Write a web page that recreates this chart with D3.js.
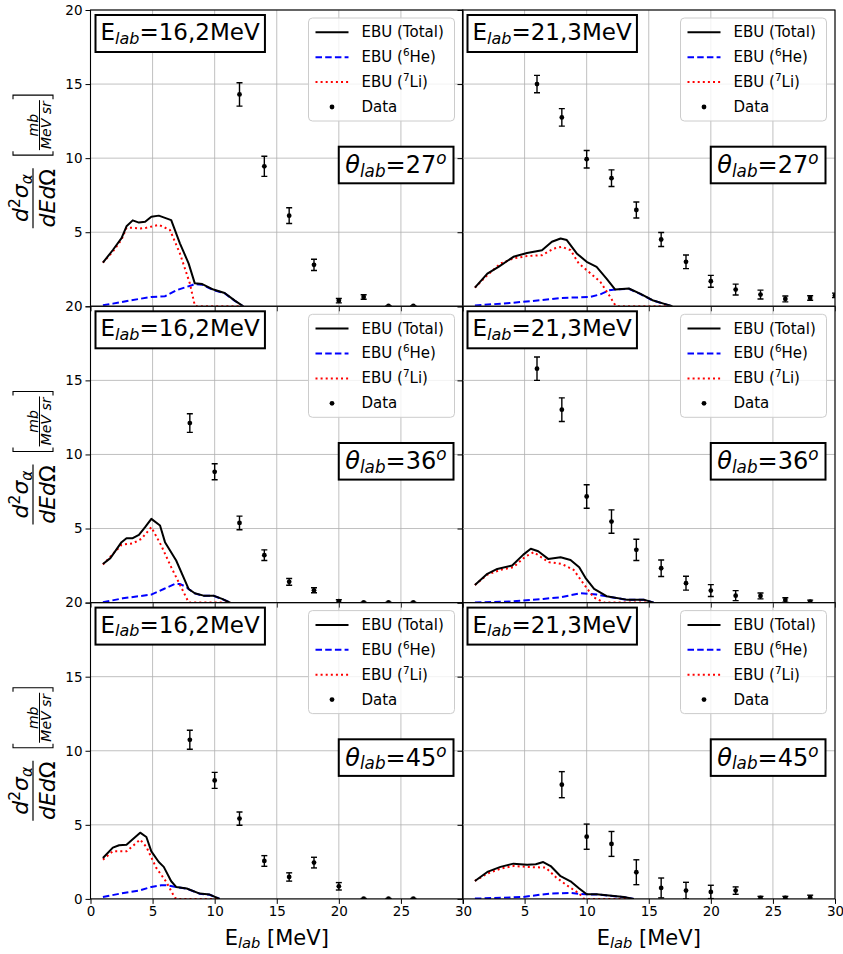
<!DOCTYPE html>
<html><head><meta charset="utf-8">
<script src="https://cdn.jsdelivr.net/npm/d3@7/dist/d3.min.js"></script>
<style>
body{margin:0;background:#fff}
text{font-family:"DejaVu Sans",sans-serif}
</style>
</head><body>
<svg id="c" width="843" height="954"></svg>
<script>
// ---------- data ----------
const energies = ["16,2", "21,3"];
const angles = ["27", "36", "45"];
const xTicks = [0, 5, 10, 15, 20, 25, 30];
const yTicks = [0, 5, 10, 15, 20];

// Panel A: 16.2 MeV, 27 deg
const totA = [[1,2.95],[1.8,3.8],[2.5,4.6],[2.9,5.4],[3.4,5.8],[3.9,5.65],[4.4,5.7],[4.9,6.05],[5.5,6.12],[6.5,5.82],[7.2,4.25],[7.9,2.9],[8.4,1.55],[9.0,1.5],[9.9,1.13],[10.8,0.9],[11.6,0.4],[12.3,0]];
const liA  = [[1,2.95],[1.8,3.7],[2.5,4.5],[2.9,5.3],[3.4,5.3],[4.0,5.25],[4.5,5.3],[5.5,5.5],[6.4,5.15],[7.2,3.57],[8.0,1.55],[8.4,0.05],[8.6,0],[12.3,0]];
const heA  = [[1,0.07],[1.8,0.18],[3.2,0.4],[4.9,0.63],[6.0,0.68],[6.9,1.08],[8.15,1.42],[8.4,1.5],[9.0,1.45],[9.9,1.1],[10.8,0.88],[11.6,0.38],[12.3,0]];
const dxA = [12,14,16,18,20,22,24,26];
const dyA = [14.3,9.45,6.12,2.8,0.38,0.63,0.02,0.02];
const deA = [0.79,0.68,0.53,0.38,0.15,0.15,0.02,0.02];

// Panel B: 21.3 MeV, 27 deg
const totB = [[1,1.26],[2,2.2],[2.9,2.66],[4.1,3.34],[5.2,3.6],[6.4,3.79],[7.2,4.36],[7.9,4.58],[8.4,4.47],[9.2,3.57],[10,3.0],[10.8,2.66],[11.6,1.87],[12.3,1.13],[13.4,1.2],[14.3,0.86],[15.3,0.41],[16.2,0.18],[16.9,0]];
const liB  = [[1,1.26],[2,2.1],[3.06,2.89],[4.1,3.23],[5.2,3.39],[6.4,3.45],[7.35,3.9],[8.0,4.02],[8.7,3.79],[9.36,2.89],[10.16,2.33],[11.1,1.65],[11.9,0.63],[12.3,0.07],[12.5,0],[16.9,0]];
const heB  = [[1,0.05],[3.9,0.23],[6.3,0.41],[7.9,0.56],[10.3,0.63],[11.1,0.81],[11.8,1.08],[12.3,1.13],[13.4,1.18],[14.3,0.84],[15.3,0.4],[16.2,0.17],[16.9,0]];
const dxB = [6,8,10,12,14,16,18,20,22,24,26,28,30];
const dyB = [15.0,12.75,9.93,8.65,6.5,4.51,3.0,1.69,1.13,0.79,0.5,0.56,0.74];
const deB = [0.59,0.59,0.59,0.56,0.54,0.47,0.46,0.4,0.37,0.3,0.2,0.15,0.15];

// Panel C: 16.2 MeV, 36 deg
const totC = [[1,2.61],[1.6,3.0],[2.5,4.08],[2.9,4.35],[3.4,4.35],[3.9,4.57],[4.4,5.09],[4.9,5.65],[5.6,5.2],[6.0,4.08],[6.9,2.84],[7.9,0.92],[8.4,0.63],[9.1,0.47],[9.9,0.47],[10.6,0.25],[11.25,0]];
const liC  = [[1,2.57],[2.5,3.9],[3.4,4.0],[4.1,4.3],[4.9,5.09],[5.7,3.85],[6.5,2.39],[7.3,1.04],[7.9,0.02],[8.0,0],[11.25,0]];
const heC  = [[1,0.02],[2.6,0.29],[4.9,0.54],[5.9,0.92],[6.8,1.26],[7.2,1.26],[7.75,1.04],[7.9,0.92],[8.4,0.62],[9.1,0.46],[9.9,0.46],[10.6,0.24],[11.25,0]];
const dxC = [8,10,12,14,16,18,20,22,24,26];
const dyC = [12.12,8.83,5.38,3.2,1.4,0.83,0.09,0.01,0.01,0.01];
const deC = [0.63,0.54,0.46,0.36,0.23,0.17,0.1,0.02,0.02,0.02];

// Panel D: 21.3 MeV, 36 deg
const totD = [[1,1.19],[2,1.94],[2.8,2.27],[4.0,2.5],[4.9,3.24],[5.5,3.63],[6.1,3.47],[6.9,2.95],[7.9,3.06],[8.7,2.88],[9.4,2.39],[9.9,1.67],[10.6,0.92],[11.6,0.43],[13.2,0.2],[14.6,0.2],[15.4,0]];
const liD  = [[1,1.19],[2,1.89],[3.06,2.21],[4.1,2.39],[5.07,3.11],[5.74,3.4],[6.94,2.73],[8.0,2.61],[8.95,2.21],[9.76,1.26],[10.56,0.36],[11.4,0],[15.4,0]];
const heD  = [[1,0.01],[3.9,0.07],[6.5,0.25],[7.9,0.36],[9.5,0.63],[10.2,0.59],[10.8,0.54],[11.6,0.42],[13.2,0.19],[14.6,0.19],[15.4,0]];
const dxD = [6,8,10,12,14,16,18,20,22,24,26,28];
const dyD = [15.79,13.02,7.16,5.47,3.56,2.32,1.31,0.81,0.47,0.45,0.18,0.07];
const deD = [0.79,0.8,0.79,0.79,0.72,0.56,0.47,0.4,0.34,0.2,0.15,0.1];

// Panel E: 16.2 MeV, 45 deg
const totE = [[1,2.76],[1.8,3.46],[2.3,3.62],[2.9,3.66],[3.4,4.02],[4.0,4.47],[4.5,4.18],[4.9,3.21],[5.5,2.49],[5.9,2.16],[6.5,1.19],[6.9,0.81],[7.75,0.7],[8.8,0.36],[9.6,0.29],[10.4,0]];
const liE  = [[1,2.65],[1.8,3.21],[2.9,3.21],[4.0,4.0],[4.5,3.51],[5.3,2.09],[6.1,1.15],[6.8,0.07],[7.0,0],[10.4,0]];
const heE  = [[1,0.13],[2.4,0.36],[4.0,0.58],[4.9,0.81],[5.7,0.92],[6.1,0.92],[6.9,0.8],[7.75,0.69],[8.8,0.35],[9.6,0.28],[10.4,0]];
const dxE = [8,10,12,14,16,18,20,22,24,26];
const dyE = [10.74,8.0,5.42,2.56,1.48,2.45,0.85,0.01,0.01,0.01];
const deE = [0.64,0.54,0.45,0.36,0.28,0.36,0.25,0.02,0.02,0.02];

// Panel F: 21.3 MeV, 45 deg
const totF = [[1,1.21],[2,1.82],[3.06,2.16],[4.1,2.38],[5.2,2.31],[5.9,2.34],[6.5,2.49],[7.1,2.22],[7.9,1.53],[8.7,1.19],[9.4,0.7],[10,0.31],[10.8,0.31],[13,0.13],[13.8,0]];
const liF  = [[1,1.21],[2,1.71],[3.06,2.04],[4.1,2.22],[5.2,2.16],[6.7,2.11],[7.5,1.48],[8.4,0.92],[9.4,0.36],[9.76,0.02],[10,0],[13.8,0]];
const heF  = [[1,0.02],[4.9,0.13],[6.3,0.29],[7.1,0.36],[8.7,0.4],[9.9,0.31],[10.8,0.3],[13,0.12],[13.8,0]];
const dxF = [8,10,12,14,16,18,20,22,24,26,28];
const dyF = [7.71,4.2,3.71,1.8,0.74,0.56,0.47,0.56,0.07,0.07,0.1];
const deF = [0.88,0.85,0.84,0.84,0.67,0.56,0.45,0.25,0.1,0.1,0.15];

const panels = [
  {row:0,col:0,tot:totA,li:liA,he:heA,dx:dxA,dy:dyA,de:deA},
  {row:0,col:1,tot:totB,li:liB,he:heB,dx:dxB,dy:dyB,de:deB},
  {row:1,col:0,tot:totC,li:liC,he:heC,dx:dxC,dy:dyC,de:deC},
  {row:1,col:1,tot:totD,li:liD,he:heD,dx:dxD,dy:dyD,de:deD},
  {row:2,col:0,tot:totE,li:liE,he:heE,dx:dxE,dy:dyE,de:deE},
  {row:2,col:1,tot:totF,li:liF,he:heF,dx:dxF,dy:dyF,de:deF}
];

// ---------- layout ----------
const svg = d3.select("#c");
const defs = svg.append("defs");
const colX = [90.5, 462.5], W = 372.5;
const rowY = [10, 306.3, 602.6], H = 296.3;
const FONT = '"DejaVu Sans", sans-serif';
const tickFS = 13.5;

panels.forEach((p, i) => {
  const x0 = colX[p.col], y0 = rowY[p.row];
  const x = d3.scaleLinear().domain([0, 30]).range([x0, x0 + W]);
  const y = d3.scaleLinear().domain([0, 20]).range([y0 + H, y0]);
  const g = svg.append("g");

  // grid
  g.selectAll(".gx").data(xTicks).join("line")
    .attr("x1", d => x(d)).attr("x2", d => x(d)).attr("y1", y0).attr("y2", y0 + H)
    .attr("stroke", "#b0b0b0").attr("stroke-width", 0.8);
  g.selectAll(".gy").data(yTicks).join("line")
    .attr("y1", d => y(d)).attr("y2", d => y(d)).attr("x1", x0).attr("x2", x0 + W)
    .attr("stroke", "#b0b0b0").attr("stroke-width", 0.8);

  // clip
  defs.append("clipPath").attr("id", "clip" + i).append("rect")
    .attr("x", x0).attr("y", y0).attr("width", W).attr("height", H);
  const cg = g.append("g").attr("clip-path", `url(#clip${i})`);

  const line = d3.line().x(d => x(d[0])).y(d => y(d[1]));
  cg.append("path").datum(p.he).attr("d", line).attr("fill", "none")
    .attr("stroke", "#0000ff").attr("stroke-width", 2).attr("stroke-dasharray", "6.5,3.2");
  cg.append("path").datum(p.li).attr("d", line).attr("fill", "none")
    .attr("stroke", "#ff0000").attr("stroke-width", 2).attr("stroke-dasharray", "2,3.1");
  cg.append("path").datum(p.tot).attr("d", line).attr("fill", "none")
    .attr("stroke", "#000").attr("stroke-width", 2).attr("stroke-linejoin", "round");

  // data with error bars
  const pts = p.dx.map((d, k) => ({x: d, y: p.dy[k], e: p.de[k]}));
  const eg = cg.selectAll(".pt").data(pts).join("g");
  eg.append("line").attr("x1", d => x(d.x)).attr("x2", d => x(d.x))
    .attr("y1", d => y(d.y - d.e)).attr("y2", d => y(d.y + d.e))
    .attr("stroke", "#000").attr("stroke-width", 1.4);
  [-1, 1].forEach(s => {
    eg.append("line").attr("x1", d => x(d.x) - 3).attr("x2", d => x(d.x) + 3)
      .attr("y1", d => y(d.y + s * d.e)).attr("y2", d => y(d.y + s * d.e))
      .attr("stroke", "#000").attr("stroke-width", 1.4);
  });
  eg.append("circle").attr("cx", d => x(d.x)).attr("cy", d => y(d.y)).attr("r", 2.4).attr("fill", "#000");

  // axes
  const ax = d3.axisBottom(x).tickValues(xTicks).tickSize(5).tickPadding(3)
    .tickFormat(d => (p.row === 2 && !(p.col === 1 && d === 0)) ? d : "");
  const axg = g.append("g").attr("transform", `translate(0,${y0 + H})`).call(ax);
  const ay = d3.axisLeft(y).tickValues(yTicks).tickSize(5).tickPadding(3)
    .tickFormat(d => (p.col === 0 && !(d === 0 && p.row < 2)) ? d : "");
  const ayg = g.append("g").attr("transform", `translate(${x0},0)`).call(ay);
  [axg, ayg].forEach(a => {
    a.select(".domain").remove();
    a.selectAll("line").attr("stroke", "#000").attr("stroke-width", 1);
    a.selectAll("text").attr("font-size", tickFS).attr("font-family", FONT).attr("fill", "#000");
  });

  // spines
  g.append("rect").attr("x", x0).attr("y", y0).attr("width", W).attr("height", H)
    .attr("fill", "none").attr("stroke", "#000").attr("stroke-width", 1.1);

  // title box
  const tg = g.append("g");
  const tr = tg.append("rect");
  const tt = tg.append("text").attr("x", x0 + 10).attr("y", y0 + 30).attr("font-size", 23).attr("fill", "#000");
  tt.append("tspan").text("E");
  tt.append("tspan").text("lab").attr("font-style", "italic").attr("font-size", 16).attr("dy", 3.5);
  tt.append("tspan").text("=" + energies[p.col] + "MeV").attr("dy", -3.5);
  const tb = tt.node().getBBox();
  tr.attr("x", tb.x - 5).attr("y", y0 + 5).attr("width", tb.width + 10).attr("height", 37)
    .attr("fill", "#fff").attr("stroke", "#000").attr("stroke-width", 2);

  // theta box
  const hg = g.append("g");
  const hr = hg.append("rect");
  const ht = hg.append("text").attr("x", x0 + 356).attr("y", y0 + 163).attr("text-anchor", "end")
    .attr("font-size", 24).attr("fill", "#000");
  ht.append("tspan").text("θ").attr("font-style", "italic");
  ht.append("tspan").text("lab").attr("font-style", "italic").attr("font-size", 16.8).attr("dy", 3.6);
  ht.append("tspan").text("=" + angles[p.row]).attr("dy", -3.6);
  ht.append("tspan").text("o").attr("font-style", "italic").attr("font-size", 16.8).attr("dy", -9);
  const hb = ht.node().getBBox();
  hr.attr("x", hb.x - 6.5).attr("y", y0 + 136.7).attr("width", hb.width + 13.5).attr("height", 36.6)
    .attr("fill", "#fff").attr("stroke", "#000").attr("stroke-width", 2);

  // legend
  const lg = g.append("g").attr("transform", `translate(${x0 + 218},${y0 + 8})`);
  lg.append("rect").attr("width", 146).attr("height", 103).attr("rx", 4)
    .attr("fill", "#fff").attr("fill-opacity", 0.8).attr("stroke", "#cccccc").attr("stroke-width", 1);
  const ly = [19.3, 44.2, 69.1, 94];
  const ls = [
    {c: "#000", d: null},
    {c: "#0000ff", d: "6.5,3.2"},
    {c: "#ff0000", d: "2,3.1"}
  ];
  ls.forEach((s, k) => {
    const l = lg.append("line").attr("x1", 7).attr("x2", 40).attr("y1", ly[k] - 5).attr("y2", ly[k] - 5)
      .attr("stroke", s.c).attr("stroke-width", 2);
    if (s.d) l.attr("stroke-dasharray", s.d);
  });
  lg.append("circle").attr("cx", 23.5).attr("cy", ly[3] - 5).attr("r", 2.4).attr("fill", "#000");
  const lt = (k) => lg.append("text").attr("x", 53).attr("y", ly[k]).attr("font-size", 15).attr("fill", "#000");
  lt(0).text("EBU (Total)");
  const t1 = lt(1); t1.append("tspan").text("EBU (");
  t1.append("tspan").text("6").attr("font-size", 10.5).attr("dy", -6);
  t1.append("tspan").text("He)").attr("dy", 6);
  const t2 = lt(2); t2.append("tspan").text("EBU (");
  t2.append("tspan").text("7").attr("font-size", 10.5).attr("dy", -6);
  t2.append("tspan").text("Li)").attr("dy", 6);
  lt(3).text("Data");
});

// ---------- y labels ----------
rowY.forEach(r => {
  const c = r + H / 2;
  const yl = svg.append("g").attr("transform", "rotate(-90)");
  const num = yl.append("text").attr("x", -(c + 40)).attr("y", 28).attr("text-anchor", "middle")
    .attr("font-size", 22).attr("fill", "#000");
  num.append("tspan").text("d").attr("font-style", "italic");
  num.append("tspan").text("2").attr("font-size", 15.4).attr("dy", -8);
  num.append("tspan").text("σ").attr("font-style", "italic").attr("dy", 8);
  num.append("tspan").text("α").attr("font-style", "italic").attr("font-size", 15.4).attr("dy", 4);
  yl.append("line").attr("x1", -(c + 70)).attr("x2", -(c + 10)).attr("y1", 33).attr("y2", 33)
    .attr("stroke", "#000").attr("stroke-width", 1.2);
  const den = yl.append("text").attr("x", -(c + 40)).attr("y", 55).attr("text-anchor", "middle")
    .attr("font-size", 22).attr("fill", "#000");
  den.append("tspan").text("dEd").attr("font-style", "italic");
  den.append("tspan").text("Ω");
  yl.append("text").attr("x", -(c - 33)).attr("y", 37.5).attr("text-anchor", "middle")
    .attr("font-size", 14).attr("font-style", "italic").attr("fill", "#000").text("mb");
  yl.append("line").attr("x1", -(c - 8)).attr("x2", -(c - 58)).attr("y1", 39.5).attr("y2", 39.5)
    .attr("stroke", "#000").attr("stroke-width", 1);
  yl.append("text").attr("x", -(c - 33)).attr("y", 51).attr("text-anchor", "middle")
    .attr("font-size", 14).attr("font-style", "italic").attr("fill", "#000").text("MeV sr");
  const b1 = -(c - 3), b2 = -(c - 63);
  yl.append("path").attr("d", `M${b1 + 4},13 L${b1},13 L${b1},53 L${b1 + 4},53`)
    .attr("fill", "none").attr("stroke", "#000").attr("stroke-width", 1.1);
  yl.append("path").attr("d", `M${b2 - 4},13 L${b2},13 L${b2},53 L${b2 - 4},53`)
    .attr("fill", "none").attr("stroke", "#000").attr("stroke-width", 1.1);
});

// ---------- x labels ----------
colX.forEach(x0 => {
  const t = svg.append("text").attr("x", x0 + W / 2).attr("y", 945).attr("text-anchor", "middle")
    .attr("font-size", 21).attr("fill", "#000");
  t.append("tspan").text("E");
  t.append("tspan").text("lab").attr("font-style", "italic").attr("font-size", 14.7).attr("dy", 3.3);
  t.append("tspan").text(" [MeV]").attr("dy", -3.3);
});
</script>
</body></html>
